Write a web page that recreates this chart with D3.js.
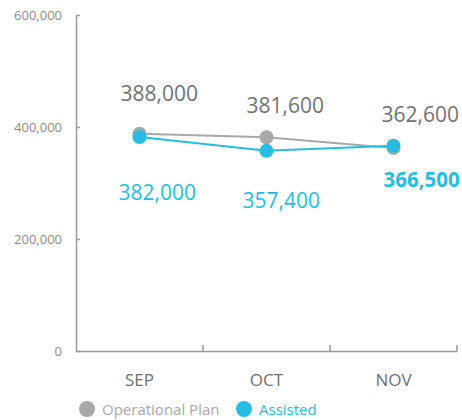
<!DOCTYPE html>
<html><head><meta charset="utf-8">
<script src="https://cdn.jsdelivr.net/npm/d3@7"></script>
<style>body{margin:0;background:#fff}svg{font-family:"Open Sans",sans-serif}</style>
</head><body><svg id="c" width="462" height="420"></svg>
<script>
const categories = ["SEP","OCT","NOV"];
const planValues = [388000, 381600, 362600];
const assistedValues = [382000, 357400, 366500];
const yTicks = [0, 200000, 400000, 600000];
const seriesNames = ["Operational Plan", "Assisted"];

const grayC = "#a8a8a8", blueC = "#27bde2";
const svg = d3.select("#c");
const m = {l:76, r:5, t:15, b:69};
const W = 462, H = 420;
const x = d3.scaleBand().domain(categories).range([m.l, W - m.r]);
const y = d3.scaleLinear().domain([0, 600000]).range([H - m.b, m.t]);
const fmt = d3.format(",");

// y axis
const ya = svg.append("g").attr("transform", `translate(${m.l},0)`)
  .call(d3.axisLeft(y).tickValues(yTicks).tickFormat(fmt).tickSizeInner(-4).tickSizeOuter(0).tickPadding(14));
ya.select(".domain").attr("stroke", "#9a9a9a").attr("stroke-width", 1.5);
ya.selectAll(".tick line").attr("stroke", "#9a9a9a").attr("stroke-width", 1.5);
ya.selectAll(".tick text").attr("fill", "#8c8c8c").style("font-size", "13px").style("font-family", "Open Sans");

// x axis
const xa = svg.append("g").attr("transform", `translate(0,${H - m.b})`)
  .call(d3.axisBottom(x).tickSize(0).tickPadding(23));
xa.select(".domain").attr("stroke", "#9a9a9a").attr("stroke-width", 1.5);
xa.selectAll(".tick text").attr("fill", "#707070").style("font-size", "17px").style("font-family", "Open Sans");
// boundary ticks between bands
const bounds = categories.map(c => x(c) + x.bandwidth());
xa.selectAll("line.bt").data(bounds).enter().append("line").attr("class","bt")
  .attr("x1", d => d).attr("x2", d => d).attr("y1", 0).attr("y2", -6)
  .attr("stroke", "#9a9a9a").attr("stroke-width", 1.5);

const cx = c => x(c) + x.bandwidth() / 2;
const line = d3.line().x((d, i) => cx(categories[i])).y(d => y(d));

function drawSeries(vals, color) {
  svg.append("path").datum(vals).attr("d", line).attr("fill", "none")
    .attr("stroke", color).attr("stroke-width", 2);
  svg.selectAll(null).data(vals).enter().append("circle")
    .attr("cx", (d, i) => cx(categories[i])).attr("cy", d => y(d)).attr("r", 7).attr("fill", color);
}
drawSeries(planValues, grayC);
drawSeries(assistedValues, blueC);

// labels
const planDx = [-19, -20, -12], planDy = [-33, -24, -26];
const asDx = [-21, -24, -10], asDy = [63, 57, 41];
svg.selectAll(null).data(planValues).enter().append("text")
  .attr("x", (d, i) => cx(categories[i]) + planDx[i]).attr("y", (d, i) => y(d) + planDy[i])
  .attr("fill", "#737373").style("font-size", "21px").text(d => fmt(d));
svg.selectAll(null).data(assistedValues).enter().append("text")
  .attr("x", (d, i) => cx(categories[i]) + asDx[i]).attr("y", (d, i) => y(d) + asDy[i])
  .attr("fill", blueC).style("font-size", (d, i) => i === 2 ? "20.5px" : "21px")
  .style("font-weight", (d, i) => i === 2 ? "bold" : "normal").text(d => fmt(d));

// legend
const lg = svg.append("g").attr("transform", "translate(0,409)");
const lgColors = [grayC, blueC], lgText = ["#a8a8a8", blueC], lgX = [87, 244];
seriesNames.forEach((n, i) => {
  lg.append("circle").attr("cx", lgX[i]).attr("cy", 0).attr("r", 8).attr("fill", lgColors[i]);
  lg.append("text").attr("x", lgX[i] + 15).attr("y", 5.5).attr("fill", lgText[i])
    .style("font-size", "15px").text(n);
});
</script></body></html>
